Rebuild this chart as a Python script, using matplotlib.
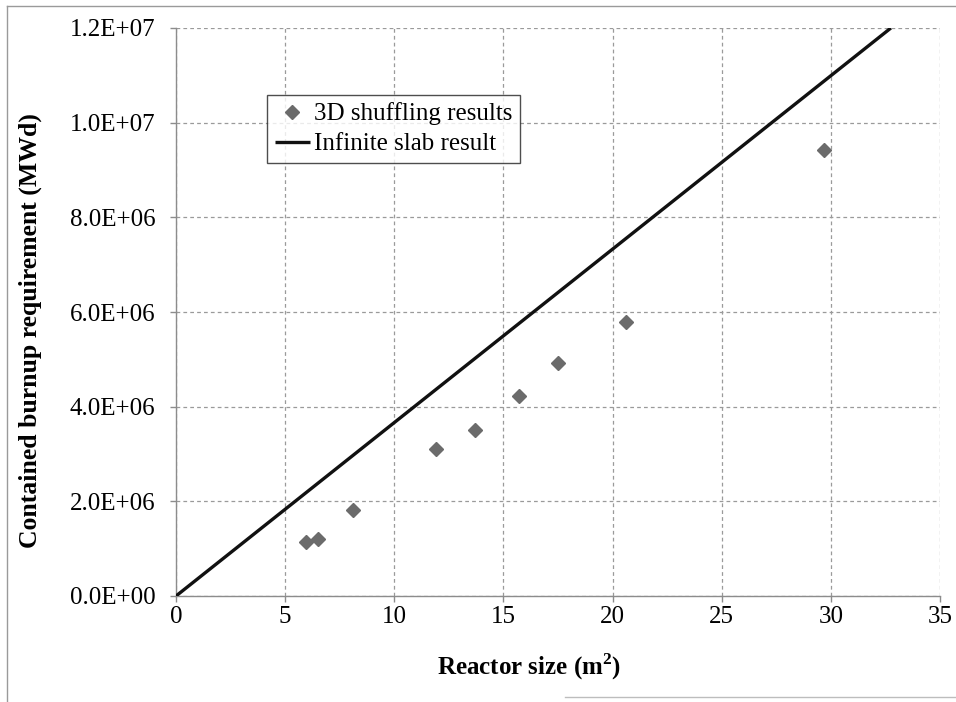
import matplotlib
matplotlib.use("Agg")
import matplotlib.pyplot as plt
from matplotlib.lines import Line2D
from matplotlib.ticker import FuncFormatter

# 3D shuffling results: reactor size (m^2) vs contained burnup (MWd)
reactor_size = [5.96, 6.52, 8.12, 11.9, 13.7, 15.7, 17.5, 20.6, 29.7]
burnup = [1.14e6, 1.20e6, 1.82e6, 3.10e6, 3.50e6, 4.23e6, 4.92e6, 5.78e6, 9.42e6]

# Infinite slab result: straight line through the origin
slab_x = [0.0, 32.75]
slab_y = [0.0, 1.2e7]

x_ticks = [0, 5, 10, 15, 20, 25, 30, 35]
y_ticks = [0, 2e6, 4e6, 6e6, 8e6, 1.0e7, 1.2e7]

plt.rcParams['font.family'] = ['Liberation Serif', 'DejaVu Serif']

fig = plt.figure(figsize=(9.56, 7.02), dpi=100)
ax = fig.add_axes([176/956, 1 - 596/702, (940 - 176)/956, (596 - 28)/702])

ax.plot(reactor_size, burnup, linestyle='none', marker='D', markersize=7,
        color='#6b6b6b', label='3D shuffling results', zorder=3)
ax.plot(slab_x, slab_y, color='#111111', linewidth=2.4,
        label='Infinite slab result', zorder=4, solid_capstyle='butt')

ax.set_xlim(0, 35)
ax.set_ylim(0, 1.2e7)
ax.set_xticks(x_ticks)
ax.set_yticks(y_ticks)
ax.yaxis.set_major_formatter(FuncFormatter(
    lambda v, p: ("%.1E" % v) if v != 0 else "0.0E+00"))

ax.grid(True, color='#9a9a9a', linestyle=(0, (3, 2.5)), linewidth=0.9)
ax.set_axisbelow(True)
for s in ('top', 'right'):
    ax.spines[s].set_visible(False)
for s in ('left', 'bottom'):
    ax.spines[s].set_color('#8c8c8c')
    ax.spines[s].set_linewidth(1.0)

ax.tick_params(axis='both', which='major', labelsize=18, color='#8c8c8c',
               length=4, width=1.0, direction='out')
ax.tick_params(axis='y', pad=11)
ax.tick_params(axis='x', pad=3)

ax.set_xlabel('Reactor size (m$^\\mathregular{2}$)', fontsize=18,
              fontweight='bold', labelpad=12)
ax.xaxis.set_label_coords((529 - 176)/764, -0.1)
ax.xaxis.label.set_verticalalignment('center')
ax.xaxis.label.set_y(0)
ax.xaxis.set_label_coords((529 - 176)/764, -(667 - 596)/568)
ax.set_ylabel('Contained burnup requirement (MWd)', fontsize=18.5,
              fontweight='bold')
ax.yaxis.set_label_coords(-(176 - 30)/764, (596 - 331)/568)
ax.yaxis.label.set_verticalalignment('center')

leg = ax.legend(loc='upper left', bbox_to_anchor=((267 - 176)/764, 1 - (95 - 28)/568),
                fontsize=18, frameon=True, fancybox=False, edgecolor='#222222',
                handlelength=1.4, handletextpad=0.2, borderpad=0.3,
                labelspacing=0.3, borderaxespad=0)
leg.get_frame().set_linewidth(1.0)

# Outer border around the chart
fig.add_artist(Line2D([7/956, 7/956], [0, 1 - 6/702], transform=fig.transFigure,
                      color='#9a9a9a', linewidth=1.0))
fig.add_artist(Line2D([7/956, 1], [1 - 6/702, 1 - 6/702], transform=fig.transFigure,
                      color='#9a9a9a', linewidth=1.0))
fig.add_artist(Line2D([565/956, 1], [1 - 697/702, 1 - 697/702], transform=fig.transFigure,
                      color='#bdbdbd', linewidth=1.0))

fig.savefig('out.png', dpi=100)
